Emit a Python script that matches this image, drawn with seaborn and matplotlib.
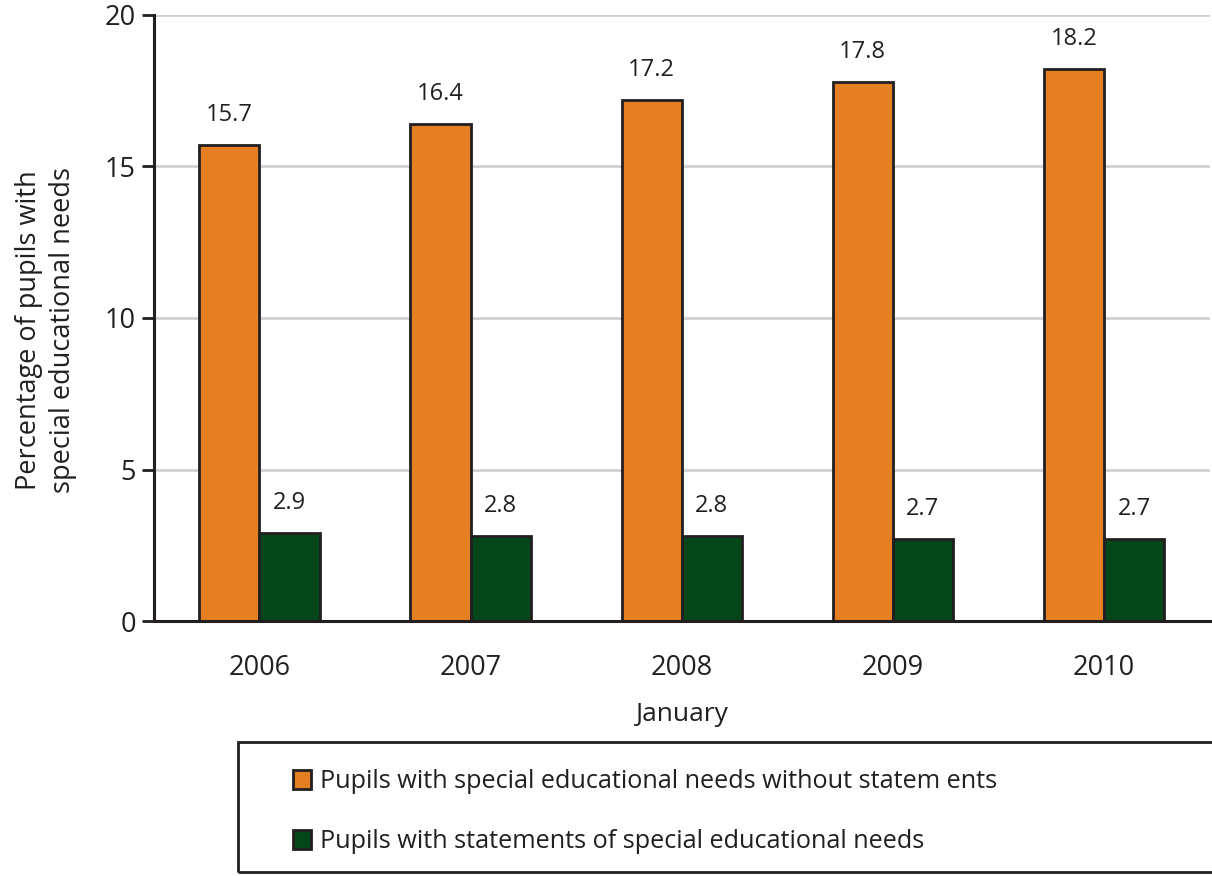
import pandas as pd
import matplotlib.pyplot as plt
from matplotlib.patches import Rectangle
import seaborn as sns

# Данные с графика
years = ['2006', '2007', '2008', '2009', '2010']
without_statements = [15.7, 16.4, 17.2, 17.8, 18.2]
with_statements = [2.9, 2.8, 2.8, 2.7, 2.7]
series_names = [
    'Pupils with special educational needs without statem ents',
    'Pupils with statements of special educational needs',
]
colors = ['#E67E22', '#02461A']

df = pd.DataFrame({
    'year': years * 2,
    'value': without_statements + with_statements,
    'series': [series_names[0]] * len(years) + [series_names[1]] * len(years),
})

sns.set_style('white')
plt.rcParams['font.family'] = ['Open Sans', 'DejaVu Sans']
text_color = '#231F20'

fig = plt.figure(figsize=(12.12, 8.76), dpi=100)
ax = fig.add_axes([0.127, 0.291, 0.871, 0.692])

sns.barplot(
    data=df, x='year', y='value', hue='series',
    palette=colors, width=0.57, edgecolor=text_color, linewidth=2,
    saturation=1, ax=ax,
)

for container in ax.containers:
    ax.bar_label(container, fmt='%.1f', padding=13, fontsize=17, color=text_color)

ax.set_ylim(0, 20)
ax.set_xlim(-0.5, len(years) - 0.5)
ax.set_yticks([0, 5, 10, 15, 20])
ax.yaxis.grid(True, color='#D0D0D0', linewidth=2)
ax.set_axisbelow(True)

sns.despine(ax=ax, top=True, right=True)
for side in ['left', 'bottom']:
    ax.spines[side].set_color(text_color)
    ax.spines[side].set_linewidth(2.2)

# Засечки по границам категорий
ax.set_xticks([i - 0.5 for i in range(len(years) + 1)], minor=True)
ax.tick_params(axis='x', which='minor', length=11, width=2, color=text_color, direction='out')
ax.tick_params(axis='x', which='major', length=0, pad=24, labelsize=19.5, labelcolor=text_color)
ax.tick_params(axis='y', length=9, width=2, color=text_color, direction='out', pad=4,
               labelsize=19.5, labelcolor=text_color, left=True)

ax.set_xlabel('January', fontsize=19, color=text_color, labelpad=14)
ax.set_ylabel('Percentage of pupils with\nspecial educational needs', fontsize=19.5,
              color=text_color, labelpad=20, linespacing=1.3)
ax.yaxis.label.set_y(0.48)

handles, labels = ax.get_legend_handles_labels()
ax.get_legend().remove()

# Рамка легенды
fig.patches.append(Rectangle((238 / 1212, 4 / 876), 980 / 1212, 130 / 876,
                             transform=fig.transFigure, fill=False,
                             edgecolor=text_color, linewidth=2))
fig.legend(handles, labels, loc='upper left', bbox_to_anchor=(293 / 1212, 1 - 769 / 876),
           frameon=False, fontsize=18.2, labelcolor=text_color,
           handlelength=0.7, handleheight=0.8, handletextpad=0.35,
           labelspacing=1.4, borderpad=0, borderaxespad=0)

plt.savefig('out.png', dpi=100)
plt.close()
